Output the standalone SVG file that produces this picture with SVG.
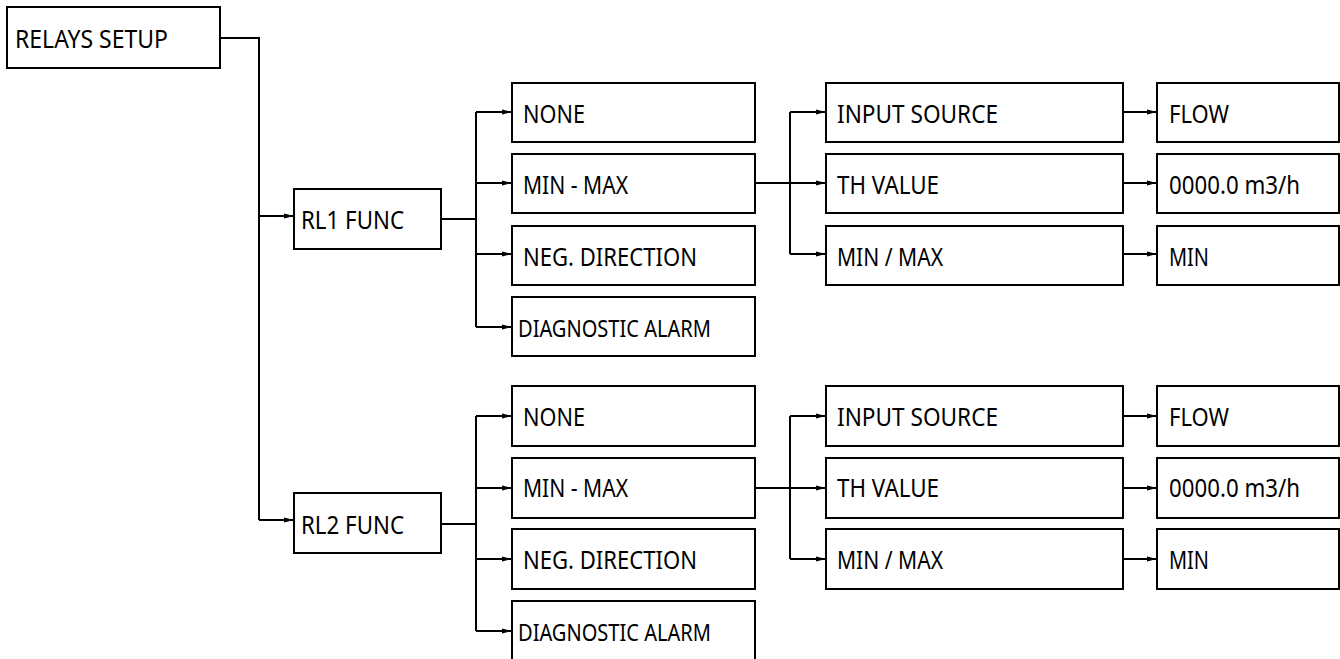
<svg xmlns="http://www.w3.org/2000/svg" width="1340" height="659" viewBox="0 0 1340 659">
<defs>
<marker id="arr" markerUnits="userSpaceOnUse" markerWidth="10" markerHeight="6" refX="10" refY="3" orient="auto">
<path d="M0,0.6 L10,3 L0,5.4 Z" fill="#000"/>
</marker>
<style>
rect.n{fill:#fff;stroke:#000;stroke-width:2}
text{font-family:"Noto Sans","Liberation Sans",sans-serif;font-size:25.5px;fill:#000}
text.s{font-size:24px}
#connectors path{fill:none;stroke:#000;stroke-width:2}
#connectors path.a{marker-end:url(#arr)}
</style>
</defs>
<rect width="1340" height="659" style="fill:#fff;stroke:none"/>
<g id="connectors">
<path d="M220,38 H259 V520"/>
<path class="a" d="M259,216 H294"/>
<path class="a" d="M259,520 H294"/>
<path d="M441,219 H476 M476,112 V327"/>
<path class="a" d="M476,112 H512"/>
<path class="a" d="M476,183 H512"/>
<path class="a" d="M476,254 H512"/>
<path class="a" d="M476,327 H512"/>
<path d="M790,112 V254"/>
<path class="a" d="M755,183 H826"/>
<path class="a" d="M790,112 H826"/>
<path class="a" d="M790,254 H826"/>
<path class="a" d="M1123,112 H1157"/>
<path class="a" d="M1123,183 H1157"/>
<path class="a" d="M1123,254 H1157"/>
<path d="M441,524 H476 M476,416 V631"/>
<path class="a" d="M476,416 H512"/>
<path class="a" d="M476,488 H512"/>
<path class="a" d="M476,559 H512"/>
<path class="a" d="M476,631 H512"/>
<path d="M790,416 V559"/>
<path class="a" d="M755,488 H826"/>
<path class="a" d="M790,416 H826"/>
<path class="a" d="M790,559 H826"/>
<path class="a" d="M1123,416 H1157"/>
<path class="a" d="M1123,488 H1157"/>
<path class="a" d="M1123,559 H1157"/>
</g>
<g id="relays-setup"><rect class="n" x="7" y="7" width="213" height="61"/><text x="15" y="48" textLength="153" lengthAdjust="spacingAndGlyphs">RELAYS SETUP</text></g>
<g id="rl1-func"><rect class="n" x="294" y="189" width="147" height="60"/><text x="301" y="229" textLength="103" lengthAdjust="spacingAndGlyphs">RL1 FUNC</text></g>
<g id="rl1-none"><rect class="n" x="512" y="83" width="243" height="59"/><text x="523" y="123" textLength="62" lengthAdjust="spacingAndGlyphs">NONE</text></g>
<g id="rl1-minmax"><rect class="n" x="512" y="154" width="243" height="59"/><text x="523" y="194" textLength="105" lengthAdjust="spacingAndGlyphs">MIN - MAX</text></g>
<g id="rl1-neg"><rect class="n" x="512" y="226" width="243" height="59"/><text x="523" y="266" textLength="174" lengthAdjust="spacingAndGlyphs">NEG. DIRECTION</text></g>
<g id="rl1-diag"><rect class="n" x="512" y="297" width="243" height="59"/><text class="s" x="518" y="337" textLength="193" lengthAdjust="spacingAndGlyphs">DIAGNOSTIC ALARM</text></g>
<g id="rl1-input"><rect class="n" x="826" y="83" width="297" height="59"/><text x="837" y="123" textLength="161" lengthAdjust="spacingAndGlyphs">INPUT SOURCE</text></g>
<g id="rl1-th"><rect class="n" x="826" y="154" width="297" height="59"/><text x="837" y="194" textLength="102" lengthAdjust="spacingAndGlyphs">TH VALUE</text></g>
<g id="rl1-minormax"><rect class="n" x="826" y="226" width="297" height="59"/><text x="837" y="266" textLength="106" lengthAdjust="spacingAndGlyphs">MIN / MAX</text></g>
<g id="rl1-flow"><rect class="n" x="1157" y="83" width="182" height="59"/><text x="1169" y="123" textLength="60" lengthAdjust="spacingAndGlyphs">FLOW</text></g>
<g id="rl1-thval"><rect class="n" x="1157" y="154" width="182" height="59"/><text x="1169" y="194" textLength="131" lengthAdjust="spacingAndGlyphs">0000.0 m3/h</text></g>
<g id="rl1-min"><rect class="n" x="1157" y="226" width="182" height="59"/><text x="1169" y="266" textLength="40" lengthAdjust="spacingAndGlyphs">MIN</text></g>
<g id="rl2-func"><rect class="n" x="294" y="493" width="147" height="60"/><text x="301" y="534" textLength="103" lengthAdjust="spacingAndGlyphs">RL2 FUNC</text></g>
<g id="rl2-none"><rect class="n" x="512" y="386" width="243" height="60"/><text x="523" y="426" textLength="62" lengthAdjust="spacingAndGlyphs">NONE</text></g>
<g id="rl2-minmax"><rect class="n" x="512" y="458" width="243" height="60"/><text x="523" y="497" textLength="105" lengthAdjust="spacingAndGlyphs">MIN - MAX</text></g>
<g id="rl2-neg"><rect class="n" x="512" y="529" width="243" height="60"/><text x="523" y="569" textLength="174" lengthAdjust="spacingAndGlyphs">NEG. DIRECTION</text></g>
<g id="rl2-diag"><rect class="n" x="512" y="601" width="243" height="70"/><text class="s" x="518" y="641" textLength="193" lengthAdjust="spacingAndGlyphs">DIAGNOSTIC ALARM</text></g>
<g id="rl2-input"><rect class="n" x="826" y="386" width="297" height="60"/><text x="837" y="426" textLength="161" lengthAdjust="spacingAndGlyphs">INPUT SOURCE</text></g>
<g id="rl2-th"><rect class="n" x="826" y="458" width="297" height="60"/><text x="837" y="497" textLength="102" lengthAdjust="spacingAndGlyphs">TH VALUE</text></g>
<g id="rl2-minormax"><rect class="n" x="826" y="529" width="297" height="60"/><text x="837" y="569" textLength="106" lengthAdjust="spacingAndGlyphs">MIN / MAX</text></g>
<g id="rl2-flow"><rect class="n" x="1157" y="386" width="182" height="60"/><text x="1169" y="426" textLength="60" lengthAdjust="spacingAndGlyphs">FLOW</text></g>
<g id="rl2-thval"><rect class="n" x="1157" y="458" width="182" height="60"/><text x="1169" y="497" textLength="131" lengthAdjust="spacingAndGlyphs">0000.0 m3/h</text></g>
<g id="rl2-min"><rect class="n" x="1157" y="529" width="182" height="60"/><text x="1169" y="569" textLength="40" lengthAdjust="spacingAndGlyphs">MIN</text></g>
</svg>
